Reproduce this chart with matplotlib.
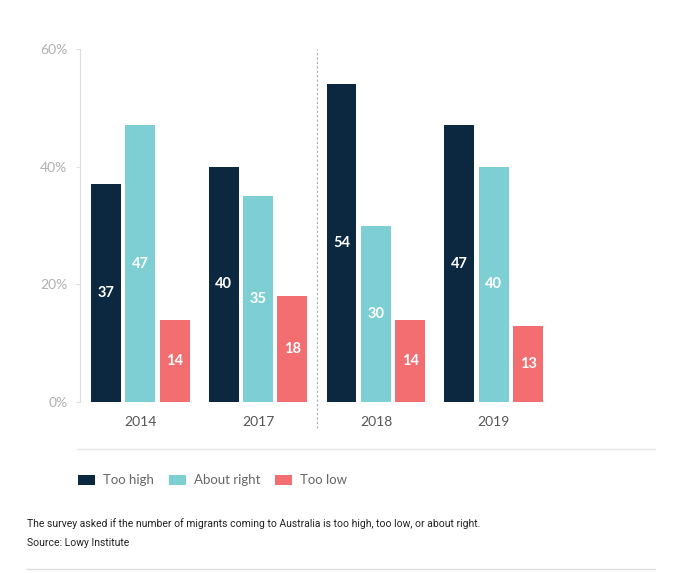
import numpy as np
import matplotlib
matplotlib.use('Agg')
import matplotlib.pyplot as plt
from matplotlib.patches import Rectangle
from matplotlib.lines import Line2D

years = ['2014', '2017', '2018', '2019']
too_high = [37, 40, 54, 47]
about_right = [47, 35, 30, 40]
too_low = [14, 18, 14, 13]
series_names = ['Too high', 'About right', 'Too low']
colors = ['#0b2840', '#7dcfd3', '#f26e70']

W, H = 674, 573
fig = plt.figure(figsize=(W / 100, H / 100), dpi=100)
fig.patch.set_facecolor('white')

ax = fig.add_axes([80 / W, 1 - 402 / H, (620 - 80) / W, (402 - 49) / H])

x = np.arange(len(years))
width = 0.254
step = 0.292
for i, (vals, col) in enumerate(zip([too_high, about_right, too_low], colors)):
    pos = x + (i - 1) * step
    ax.bar(pos, vals, width=width, color=col, zorder=2)
    for p, v in zip(pos, vals):
        ax.text(p, v / 2, str(v), ha='center', va='center', color='white',
                fontsize=10.5, fontweight='bold', family='Lato')

ax.set_xlim(-0.51, 4.07)
ax.set_ylim(0, 60)
ax.set_yticks([0, 20, 40, 60])
ax.set_yticklabels(['0%', '20%', '40%', '60%'], color='#b0b0b0', fontsize=10, family='Lato')
ax.set_xticks(x)
ax.set_xticklabels(years, color='#555555', fontsize=10, family='Lato')
ax.tick_params(axis='y', length=3, color='#dddddd', pad=6)
ax.tick_params(axis='x', length=0, pad=10)
for s in ['top', 'right', 'bottom']:
    ax.spines[s].set_visible(False)
ax.spines['left'].set_color('#dddddd')
ax.spines['left'].set_linewidth(0.8)

# dashed separator between 2017 and 2018
ax.axvline(1.5, ymin=-0.075, ymax=1.0, color='#aaaaaa', linestyle=(0, (2, 2)),
           linewidth=0.8, clip_on=False)

# horizontal rules
fig.add_artist(Line2D([77 / W, 655 / W], [1 - 449 / H, 1 - 449 / H],
                      color='#e6e6e6', linewidth=1))
fig.add_artist(Line2D([27 / W, 655 / W], [1 - 569 / H, 1 - 569 / H],
                      color='#dddddd', linewidth=1))

# legend
leg_x = [78, 169, 275]
for lx, name, col in zip(leg_x, series_names, colors):
    fig.add_artist(Rectangle((lx / W, 1 - 485 / H), 17 / W, 10 / H,
                             facecolor=col, edgecolor='none'))
    fig.text((lx + 25) / W, 1 - 480 / H, name, ha='left', va='center',
             color='#666666', fontsize=9.5, family='Lato')

fig.text(27 / W, 1 - 524 / H,
         'The survey asked if the number of migrants coming to Australia is too high, too low, or about right.',
         ha='left', va='center', color='#222222', fontsize=7.5, family='Roboto')
fig.text(27 / W, 1 - 543 / H, 'Source: Lowy Institute',
         ha='left', va='center', color='#222222', fontsize=7.5, family='Roboto')

fig.savefig('out.png', dpi=100, facecolor='white')
